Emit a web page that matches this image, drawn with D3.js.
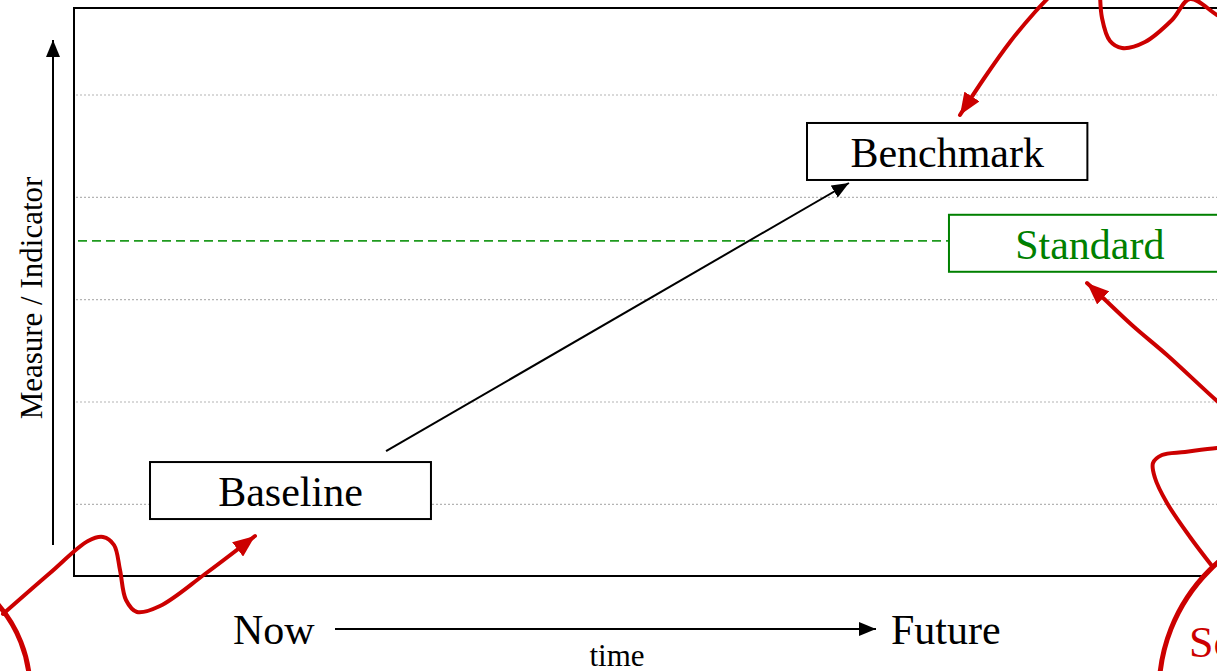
<!DOCTYPE html>
<html>
<head>
<meta charset="utf-8">
<script src="https://cdn.jsdelivr.net/npm/d3@7"></script>
<style>
  html, body { margin: 0; padding: 0; background: #fff; overflow: hidden; }
  svg { display: block; }
  text { font-family: "Liberation Serif", "Times New Roman", serif; }
</style>
</head>
<body>
<svg id="chart" width="1217" height="671"></svg>
<script>
// ---------- data ----------
const gridLevels = [1, 2, 3, 4, 5];                 // dotted horizontal gridlines (measure units)
const standardLevel = 3.575;                        // dashed standard line
const boxLabels   = ["Baseline", "Benchmark", "Standard"];
const boxLevels   = [1.135, 4.448, 3.551];          // vertical centre of each label box
const boxStart    = [6.65, 64.13, 76.55];           // time position where each box starts
const boxEnd      = [31.23, 88.66, 101.2];          // time position where each box ends
const trendFrom   = [27.3, 1.52];                   // [time, measure] of trend arrow start
const trendTo     = [67.8, 4.14];                   // [time, measure] of trend arrow end
const axisTitleY  = "Measure / Indicator";
const axisTitleX  = "time";
const timeLabels  = ["Now", "Future"];

// ---------- scales ----------
const W = 1217, H = 671;
const x = d3.scaleLinear().domain([0, 100]).range([74, 1217]);
const y = d3.scaleLinear().domain([0.3, 5.85]).range([576, 8]);
const boxH = 57;

const red = "#cc0000", green = "#008000", greenDash = "#1f9a1f";
const svg = d3.select("#chart");
const defs = svg.append("defs");

function marker(id, color, len, wid) {
  defs.append("marker")
    .attr("id", id).attr("markerUnits", "userSpaceOnUse")
    .attr("viewBox", `0 0 ${len} ${wid}`)
    .attr("refX", len).attr("refY", wid / 2)
    .attr("markerWidth", len).attr("markerHeight", wid)
    .attr("orient", "auto")
    .append("path").attr("d", `M0,0L${len},${wid / 2}L0,${wid}Z`).attr("fill", color);
}
marker("arrBlack", "#000", 17, 14);
marker("arrRed", red, 22, 18);

// ---------- plot frame ----------
svg.append("g").selectAll("line").data(gridLevels).join("line")
  .attr("x1", x(0) + 2).attr("x2", W + 10)
  .attr("y1", d => y(d)).attr("y2", d => y(d))
  .attr("stroke", "#b4b4b4").attr("stroke-width", 1.2)
  .attr("stroke-dasharray", "2,2");

svg.append("line")
  .attr("x1", x(0) + 4).attr("x2", x(80))
  .attr("y1", y(standardLevel)).attr("y2", y(standardLevel))
  .attr("stroke", greenDash).attr("stroke-width", 1.8)
  .attr("stroke-dasharray", "9,5");

svg.append("rect")
  .attr("x", x(0)).attr("y", y(5.85))
  .attr("width", 1250).attr("height", y(0.3) - y(5.85))
  .attr("fill", "none").attr("stroke", "#000").attr("stroke-width", 2);

// ---------- trend arrow ----------
svg.append("line")
  .attr("x1", x(trendFrom[0])).attr("y1", y(trendFrom[1]))
  .attr("x2", x(trendTo[0])).attr("y2", y(trendTo[1]))
  .attr("stroke", "#000").attr("stroke-width", 2)
  .attr("marker-end", "url(#arrBlack)");

// ---------- label boxes ----------
const boxes = boxLabels.map((label, i) => ({
  label, level: boxLevels[i], x0: boxStart[i], x1: boxEnd[i],
  color: label === "Standard" ? green : "#000"
}));
const bg = svg.append("g").selectAll("g").data(boxes).join("g");
bg.append("rect")
  .attr("x", d => x(d.x0)).attr("y", d => y(d.level) - boxH / 2)
  .attr("width", d => x(d.x1) - x(d.x0)).attr("height", boxH)
  .attr("fill", "#fff").attr("stroke", d => d.color).attr("stroke-width", 2);
bg.append("text")
  .attr("x", d => (x(d.x0) + x(d.x1)) / 2).attr("y", d => y(d.level) + 15.5)
  .attr("text-anchor", "middle").attr("font-size", 42)
  .attr("fill", d => d.color).text(d => d.label);

// ---------- axis titles / arrows ----------
svg.append("line").attr("x1", 53).attr("x2", 53).attr("y1", 545).attr("y2", 40)
  .attr("stroke", "#000").attr("stroke-width", 2).attr("marker-end", "url(#arrBlack)");
svg.append("text").attr("transform", "translate(42,298) rotate(-90)")
  .attr("text-anchor", "middle").attr("font-size", 31).text(axisTitleY);

svg.append("text").attr("x", 233).attr("y", 644).attr("font-size", 42).text(timeLabels[0]);
svg.append("text").attr("x", 891).attr("y", 644).attr("font-size", 42).text(timeLabels[1]);
svg.append("line").attr("x1", 335).attr("x2", 876).attr("y1", 629).attr("y2", 629)
  .attr("stroke", "#000").attr("stroke-width", 2).attr("marker-end", "url(#arrBlack)");
svg.append("text").attr("x", 617).attr("y", 666).attr("text-anchor", "middle")
  .attr("font-size", 31).text(axisTitleX);

// ---------- red hand-drawn callouts (decorative annotation) ----------
const callCircles = [
  { cx: -100, cy: 690, r: 130 },
  { cx: 1331, cy: 692, r: 172 }
];
const ann = svg.append("g");
ann.selectAll("circle").data(callCircles).join("circle")
  .attr("cx", d => d.cx).attr("cy", d => d.cy).attr("r", d => d.r)
  .attr("fill", "#fff").attr("stroke", red).attr("stroke-width", 5);
ann.append("text").attr("x", 1189).attr("y", 657).attr("font-size", 44)
  .attr("fill", red).text("Sc");

const callPaths = [
  { pts: [[3,614],[50,573],[88,541],[103,537],[114,545],[120,570],[126,600],[137,612],[160,606],[205,574],[255,536]], arrow: true },
  { pts: [[1056,-10],[1035,12],[1010,42],[985,77],[960,115]], arrow: true },
  { pts: [[1100,-12],[1102,18],[1110,41],[1122,48],[1145,42],[1172,20],[1190,-1],[1217,15],[1245,32]], arrow: false },
  { pts: [[1212,566],[1190,537],[1167,503],[1155,478],[1153,463],[1162,455],[1185,452],[1217,448],[1245,446]], arrow: false },
  { pts: [[1245,425],[1217,401],[1167,355],[1133,326],[1100,295],[1087,283]], arrow: true }
];
const lineGen = d3.line().curve(d3.curveCatmullRom.alpha(0.5));
ann.selectAll("path.call").data(callPaths).join("path")
  .attr("class", "call")
  .attr("d", d => lineGen(d.pts))
  .attr("fill", "none").attr("stroke", red).attr("stroke-width", 4)
  .attr("stroke-linecap", "round")
  .attr("marker-end", d => d.arrow ? "url(#arrRed)" : null);
</script>
</body>
</html>
